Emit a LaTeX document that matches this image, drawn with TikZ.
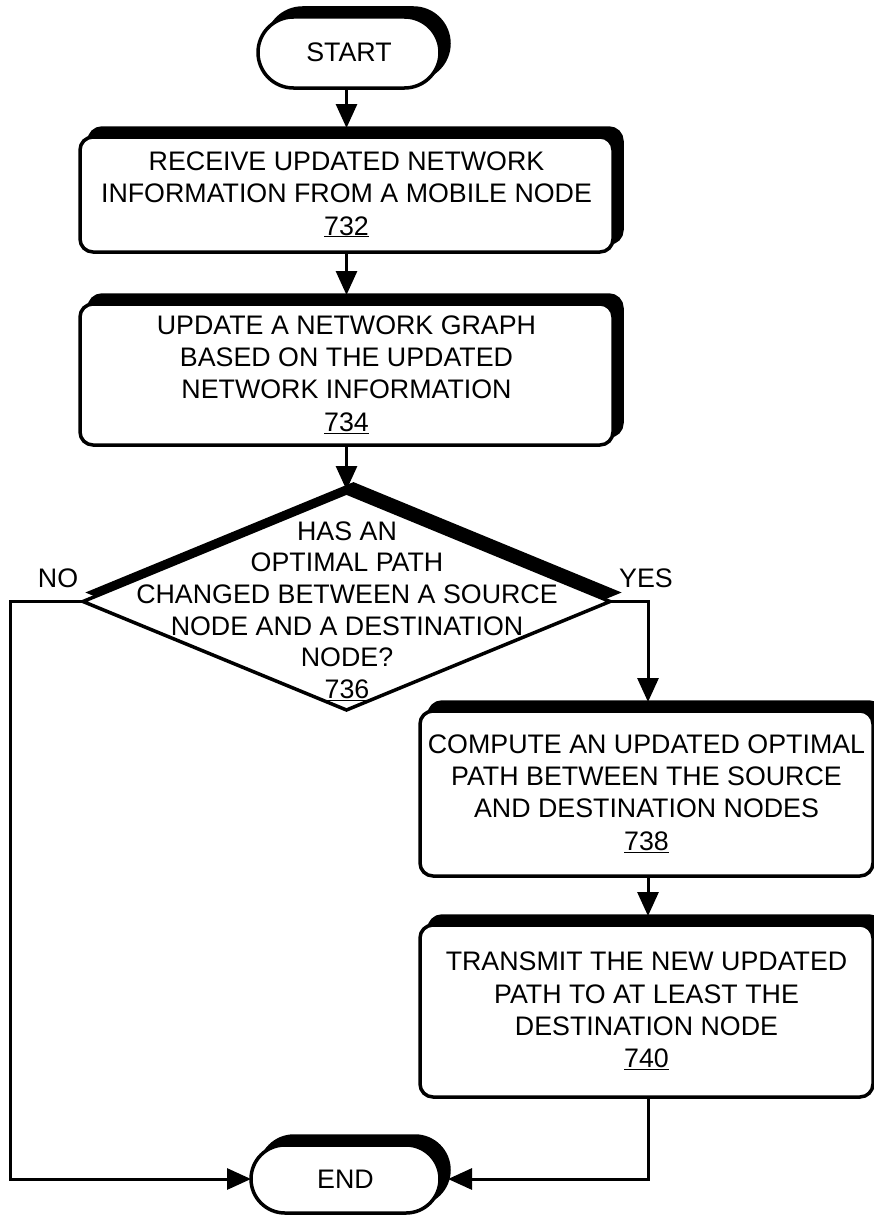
\documentclass[tikz,border=0pt]{standalone}
\usepackage{fontspec}
\setmainfont{Liberation Sans}
\usetikzlibrary{shapes.geometric,shapes.misc,shadows,arrows.meta,calc}
\begin{document}
\begin{tikzpicture}[x=1pt,y=-1pt,
  txt/.style={font=\fontsize{26.8}{32.3}\selectfont, align=center, inner sep=0pt, outer sep=0pt},
  box/.style={txt, draw, line width=3.5pt, fill=white, rounded corners=13pt,
    copy shadow={shadow xshift=9pt, shadow yshift=9pt, fill=black, draw=black}},
  term/.style={txt, rounded rectangle, draw, line width=3.5pt, fill=white,
    copy shadow={shadow xshift=9pt, shadow yshift=9pt, fill=black, draw=black}},
  dec/.style={diamond, draw, line width=3.5pt, fill=white, inner sep=0pt, outer sep=0pt,
    copy shadow={shadow xshift=7pt, shadow yshift=9pt, fill=black, draw=black}},
  conn/.style={line width=3pt, -{Triangle[length=24pt,width=21pt]}}
]
\useasboundingbox (0,0) rectangle (874,1215);
\clip (0,0) rectangle (874,1215);

\node[term, minimum width=182pt, minimum height=71pt] (start) at (349,52.5) {START};
\node[box, minimum width=533pt, minimum height=115pt] (b1) at (346.5,194.5)
  {RECEIVE UPDATED NETWORK\\INFORMATION FROM A MOBILE NODE\\\underline{732}};
\node[box, minimum width=533pt, minimum height=141pt] (b2) at (346.5,374.5)
  {UPDATE A NETWORK GRAPH\\BASED ON THE UPDATED\\NETWORK INFORMATION\\\underline{734}};
\node[dec, minimum width=527pt, minimum height=217pt] (d) at (346.5,601.5) {};
\node[txt, font=\fontsize{26.8}{31.6}\selectfont] (dt) at (347,611)
  {HAS AN\\OPTIMAL PATH\\CHANGED BETWEEN A SOURCE\\NODE AND A DESTINATION\\NODE?\\\underline{736}};
\node[box, minimum width=453pt, minimum height=165pt] (b3) at (646.5,793.5)
  {COMPUTE AN UPDATED OPTIMAL\\PATH BETWEEN THE SOURCE\\AND DESTINATION NODES\\\underline{738}};
\node[box, minimum width=453pt, minimum height=172pt] (b4) at (646.5,1011)
  {TRANSMIT THE NEW UPDATED\\PATH TO AT LEAST THE\\DESTINATION NODE\\\underline{740}};
\node[term, minimum width=189pt, minimum height=68pt] (end) at (345.5,1179) {END};
\node[txt] (no) at (58,578) {NO};
\node[txt] (yes) at (646,578) {YES};
\coordinate (nx) at (10,601.5);
\coordinate (yx) at (648,601.5);

\draw[conn, shorten >=9pt] (b1.north |- start.south) -- (b1.north);
\draw[conn, shorten >=9pt] (b1.south) -- (b2.north);
\draw[conn, shorten >=3pt] (b2.south) -- (d.north);
\draw[conn, shorten >=9pt] (d.east) -- (yx) -- (yx |- b3.north);
\draw[conn, shorten >=9pt] (yx |- b3.south) -- (yx |- b4.north);
\draw[conn, shorten >=8pt] (yx |- b4.south) |- (end.east);
\draw[conn] (d.west) -- (nx) |- (end.west);
\end{tikzpicture}
\end{document}
